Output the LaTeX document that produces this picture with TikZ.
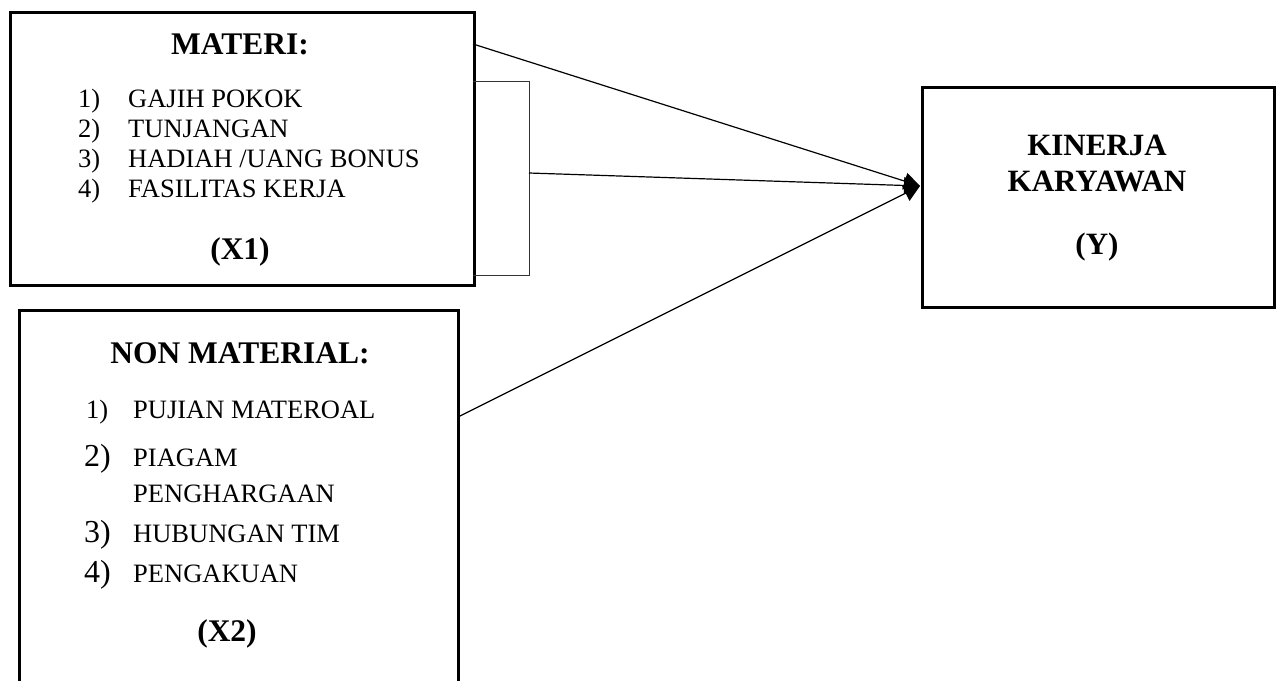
\documentclass[tikz,border=0pt]{standalone}
\usepackage{fontspec}
\setmainfont{Liberation Serif}
\usetikzlibrary{arrows.meta}
\begin{document}
\begin{tikzpicture}[x=1pt,y=-1pt,
  box/.style={draw,line width=2.6pt,inner sep=0pt,anchor=north west},
  ttl/.style={font=\fontsize{31.5}{34}\selectfont\bfseries,inner sep=0pt,anchor=base},
  ytl/.style={font=\fontsize{31}{34}\selectfont\bfseries,inner sep=0pt,anchor=base},
  itm/.style={font=\fontsize{26.5}{29}\selectfont,inner sep=0pt,anchor=base west},
  bignum/.style={font=\fontsize{32}{34}\selectfont,inner sep=0pt,anchor=base west},
  conn/.style={line width=1.2pt,-{Triangle[length=16pt,width=17pt]}},
  brk/.style={line width=1pt,draw=black!80}]
\useasboundingbox (0,0) rectangle (1277,680);
% boxes
\node[box,minimum width=464pt,minimum height=273pt] (x1) at (9,11) {};
\node[box,minimum width=439pt,minimum height=390pt] (x2) at (18,309) {};
\node[box,minimum width=352pt,minimum height=220pt] (y) at (921,86) {};
% X1 text
\node[ttl] (t1) at (240,54) {MATERI:};
\node[itm] (a1n) at (78,107) {1)};
\node[itm] (a1) at (128,107) {GAJIH POKOK};
\node[itm] (a2n) at (78,137) {2)};
\node[itm] (a2) at (128,137) {TUNJANGAN};
\node[itm] (a3n) at (78,167) {3)};
\node[itm] (a3) at (128,167) {HADIAH /UANG BONUS};
\node[itm] (a4n) at (78,197) {4)};
\node[itm] (a4) at (128,197) {FASILITAS KERJA};
\node[ttl] (l1) at (240,259) {(X1)};
% X2 text
\node[ttl] (t2) at (240,363) {NON MATERIAL:};
\node[itm] (b1n) at (86,418) {1)};
\node[itm] (b1) at (133,418) {PUJIAN MATEROAL};
\node[bignum] (b2n) at (84,466) {2)};
\node[itm] (b2) at (133,466) {PIAGAM};
\node[itm] (b2b) at (133,502) {PENGHARGAAN};
\node[bignum] (b3n) at (84,542) {3)};
\node[itm] (b3) at (133,542) {HUBUNGAN TIM};
\node[bignum] (b4n) at (84,582) {4)};
\node[itm] (b4) at (133,582) {PENGAKUAN};
\node[ttl] (l2) at (227,641) {(X2)};
% Y text
\node[ytl] (k1) at (1097,155) {KINERJA};
\node[ytl] (k2) at (1097,191) {KARYAWAN};
\node[ytl] (k3) at (1097,254) {(Y)};
% bracket
\coordinate (bt) at (473,81);
\coordinate (bb) at (473,275);
\coordinate (bm) at (529,173);
\draw[brk] (bt) -- (529,81) -- (529,275) -- (bb);
% connectors
\coordinate (tip) at (920,186);
\coordinate (s1) at (473,44);
\coordinate (s3) at (458,417);
\draw[conn] (s1) -- (tip);
\draw[conn] (bm) -- (tip);
\draw[conn] (s3) -- (tip);
\end{tikzpicture}
\end{document}
